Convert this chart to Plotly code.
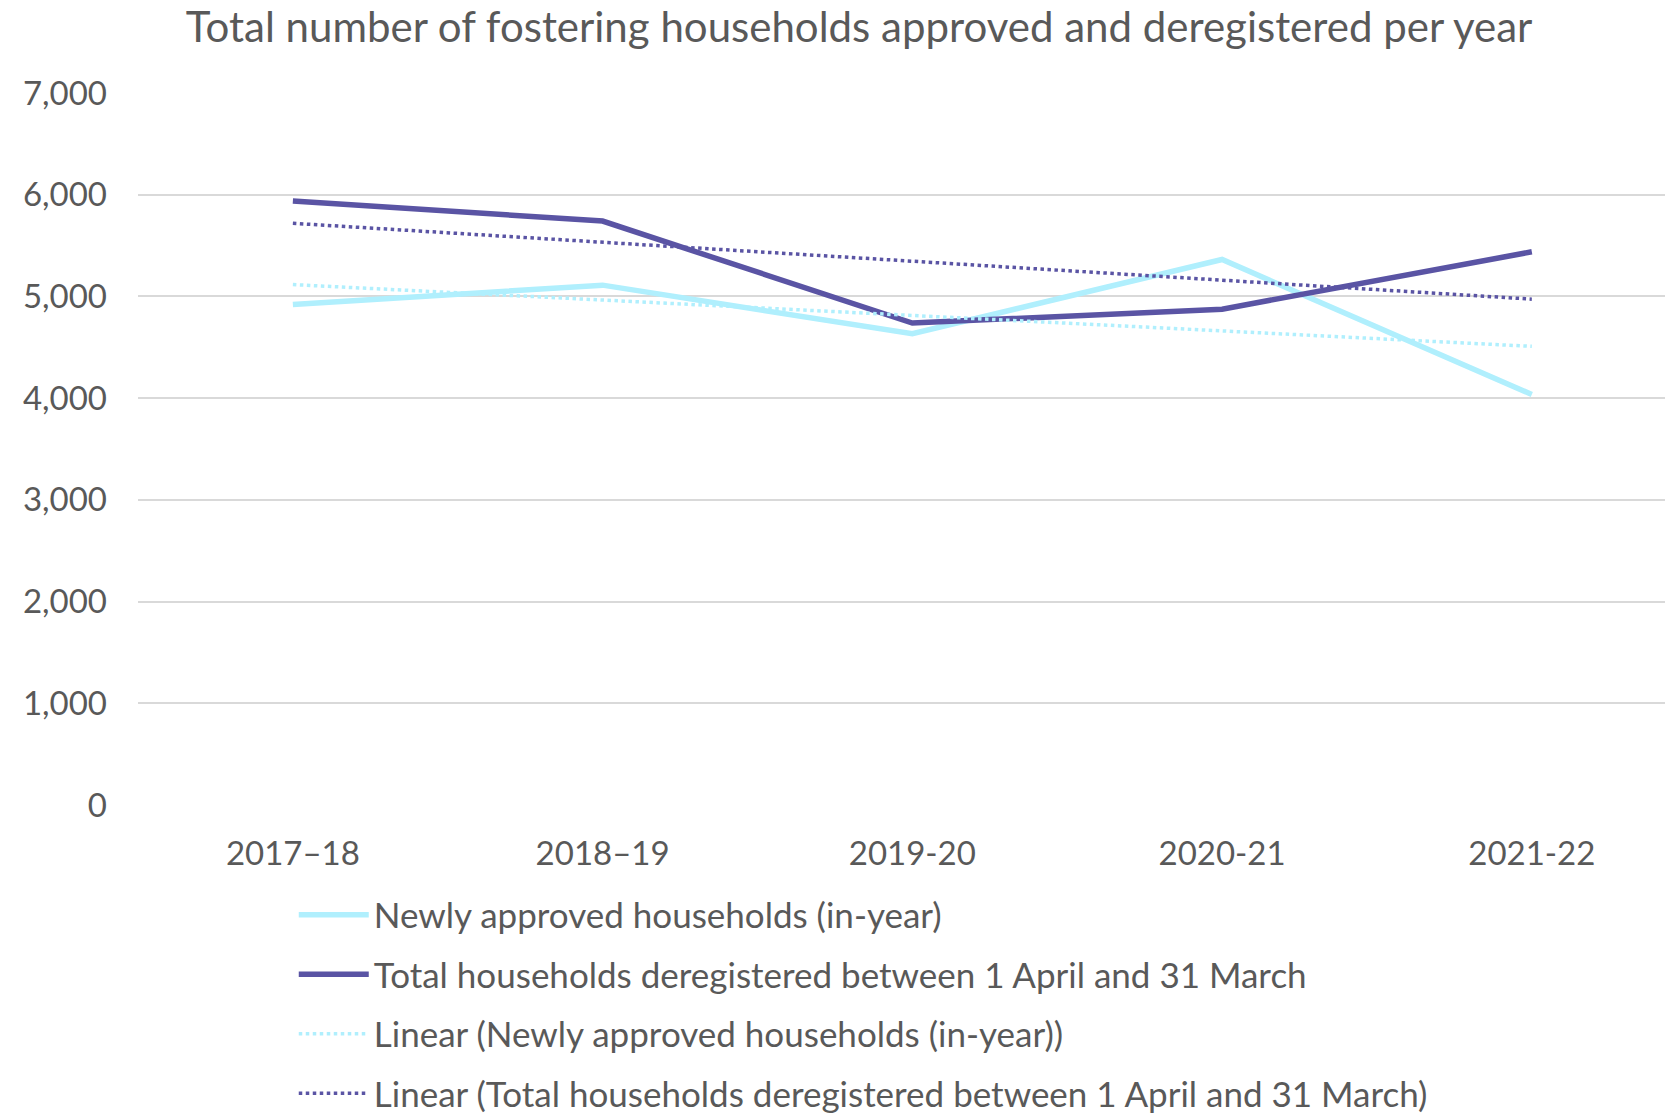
import numpy as np
import plotly.graph_objects as go

categories = ["2017–18", "2018–19", "2019-20", "2020-21", "2021-22"]
approved = [4921, 5111, 4633, 5363, 4036]
deregistered = [5938, 5741, 4738, 4875, 5439]

name_approved = "Newly approved households (in-year)"
name_dereg = "Total households deregistered between 1 April and 31 March"

LIGHT = "#B0EFFD"
DARK = "#5A54A4"
TEXT = "#595959"
FONT = "Lato"

idx = np.arange(len(categories))
def trend(vals):
    m, b = np.polyfit(idx, np.array(vals, dtype=float), 1)
    return list(m * idx + b)

fig = go.Figure()
fig.add_trace(go.Scatter(x=categories, y=approved, mode="lines", name=name_approved,
                         line=dict(color=LIGHT, width=5.5), legendgroup="a"))
fig.add_trace(go.Scatter(x=categories, y=deregistered, mode="lines", name=name_dereg,
                         line=dict(color=DARK, width=5.5), legendgroup="b"))
fig.add_trace(go.Scatter(x=categories, y=trend(approved), mode="lines",
                         name=f"Linear ({name_approved})",
                         line=dict(color=LIGHT, width=3.5, dash="dot"), legendgroup="c"))
fig.add_trace(go.Scatter(x=categories, y=trend(deregistered), mode="lines",
                         name=f"Linear ({name_dereg})",
                         line=dict(color=DARK, width=3.5, dash="dot"), legendgroup="d"))

fig.update_layout(
    width=1665, height=1120,
    margin=dict(l=138, r=0, t=93, b=315, autoexpand=False),
    paper_bgcolor="white", plot_bgcolor="white",
    font=dict(family=FONT, color=TEXT, size=33),
    title=dict(text="Total number of fostering households approved and deregistered per year",
               x=0.516, xanchor="center", y=0.976, yanchor="middle",
               font=dict(family=FONT, size=42, color=TEXT)),
    xaxis=dict(type="category", range=[-0.5, 4.43], showgrid=False, showline=False,
               ticks="", tickfont=dict(size=33, color=TEXT), ticklabelstandoff=26),
    yaxis=dict(range=[0, 7000], tickvals=[0, 1000, 2000, 3000, 4000, 5000, 6000, 7000],
               tickformat=",d", showgrid=True, gridcolor="#D9D9D9", gridwidth=2,
               zeroline=False, showline=False, ticks="", tickfont=dict(size=33, color=TEXT),
               ticklabelstandoff=30),
    legend=dict(x=0.102, xanchor="left", y=-0.113, yanchor="top",
                font=dict(size=35, color=TEXT), tracegroupgap=11, itemwidth=70,
                bgcolor="rgba(0,0,0,0)"),
    showlegend=True,
)

fig.write_html("out.html")
